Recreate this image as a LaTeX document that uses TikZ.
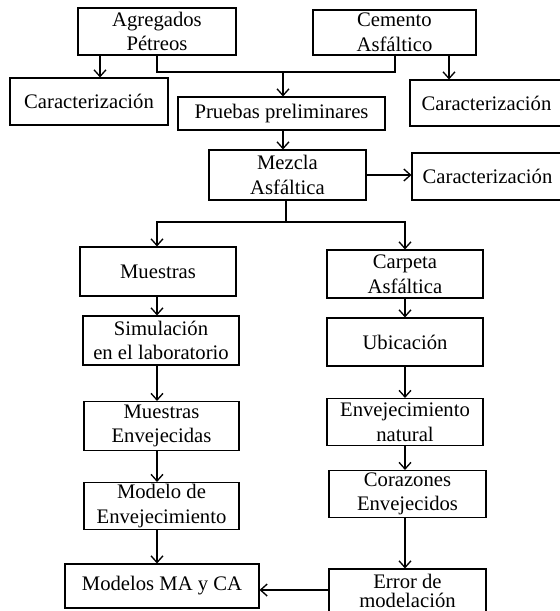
\documentclass[tikz,border=0pt]{standalone}
\usepackage{fontspec}
\setmainfont{Liberation Serif}
\usetikzlibrary{arrows.meta}
\begin{document}
\begin{tikzpicture}[x=0.75pt,y=-0.75pt,
  box/.style={draw, line width=0.8pt, inner sep=0pt, align=center,
    font=\fontsize{15.5}{18.5}\selectfont},
  tightbox/.style={box, font=\fontsize{15.5}{14.25}\selectfont},
  conn/.style={line width=1pt},
  arr/.style={conn, -{Straight Barb[length=5pt,width=9pt]}}]
\useasboundingbox (0,0) rectangle (560,611);
\node[box, minimum width=118.5pt, minimum height=35.25pt] (agr) at (157,31.5) {Agregados\\Pétreos};
\node[box, minimum width=122.25pt, minimum height=33.75pt] (cem) at (394.5,32.5) {Cemento\\Asfáltico};
\node[box, minimum width=118.5pt, minimum height=35.25pt] (car1) at (89,101.5) {Caracterización};
\node[box, minimum width=155.25pt, minimum height=24.75pt] (pru) at (281.5,113.5) {Pruebas preliminares};
\node[box, minimum width=114.75pt, minimum height=34.5pt] (car2) at (486.5,103) {Caracterización};
\node[box, minimum width=117.75pt, minimum height=37.5pt] (mez) at (287.5,175) {Mezcla\\Asfáltica};
\node[box, minimum width=113.25pt, minimum height=35.25pt] (car3) at (487.5,176.5) {Caracterización};
\node[box, minimum width=117pt, minimum height=36.75pt] (mue) at (158,271.5) {Muestras};
\node[box, minimum width=117pt, minimum height=36pt] (carp) at (405,274) {Carpeta\\Asfáltica};
\node[box, minimum width=117pt, minimum height=36.75pt] (sim) at (161,340.5) {Simulación\\en el laboratorio};
\node[box, minimum width=117pt, minimum height=36pt] (ubi) at (405,342) {Ubicación};
\node[box, minimum width=116.25pt, minimum height=36.75pt] (men) at (161.5,426) {Muestras\\Envejecidas};
\node[box, minimum width=117pt, minimum height=35.25pt] (nat) at (405,422) {Envejecimiento\\natural};
\node[box, minimum width=116.25pt, minimum height=35.25pt] (mod) at (161.5,506) {Modelo de\\Envejecimiento};
\node[box, minimum width=117.75pt, minimum height=35.25pt] (cor) at (407.5,494) {Corazones\\Envejecidos};
\node[box, minimum width=145.5pt, minimum height=33pt] (mma) at (162,586) {Modelos MA y CA};
\node[tightbox, minimum width=117.75pt, minimum height=33pt] (err) at (407.5,591) {Error de\\modelación};
\coordinate (a1) at (100,0);
\coordinate (a2) at (449,0);
\coordinate (br) at (395,0);
\coordinate (jt) at (283,72);
\coordinate (sp) at (286,222);
\coordinate (lx) at (157,0);
\coordinate (rx) at (405,0);
\coordinate (ay) at (0,590);
\draw[arr] (agr.south -| a1) -- (car1.north -| a1);
\draw[arr] (cem.south -| a2) -- (car2.north -| a2);
\draw[conn] (agr.south) |- (jt) -| (cem.south -| br);
\draw[arr] (jt) -- (pru.north -| jt);
\draw[arr] (pru.south -| jt) -- (mez.north -| jt);
\draw[arr] (mez.east) -- (car3.west |- mez.east);
\draw[arr] (mez.south -| sp) |- (lx |- sp) -- (mue.north -| lx);
\draw[arr] (sp) -| (carp.north -| rx);
\draw[arr] (mue.south -| lx) -- (sim.north -| lx);
\draw[arr] (sim.south -| lx) -- (men.north -| lx);
\draw[arr] (men.south -| lx) -- (mod.north -| lx);
\draw[arr] (mod.south -| lx) -- (mma.north -| lx);
\draw[arr] (carp.south -| rx) -- (ubi.north -| rx);
\draw[arr] (ubi.south -| rx) -- (nat.north -| rx);
\draw[arr] (nat.south -| rx) -- (cor.north -| rx);
\draw[arr] (cor.south -| rx) -- (err.north -| rx);
\draw[arr] (err.west |- ay) -- (mma.east |- ay);
\end{tikzpicture}
\end{document}
